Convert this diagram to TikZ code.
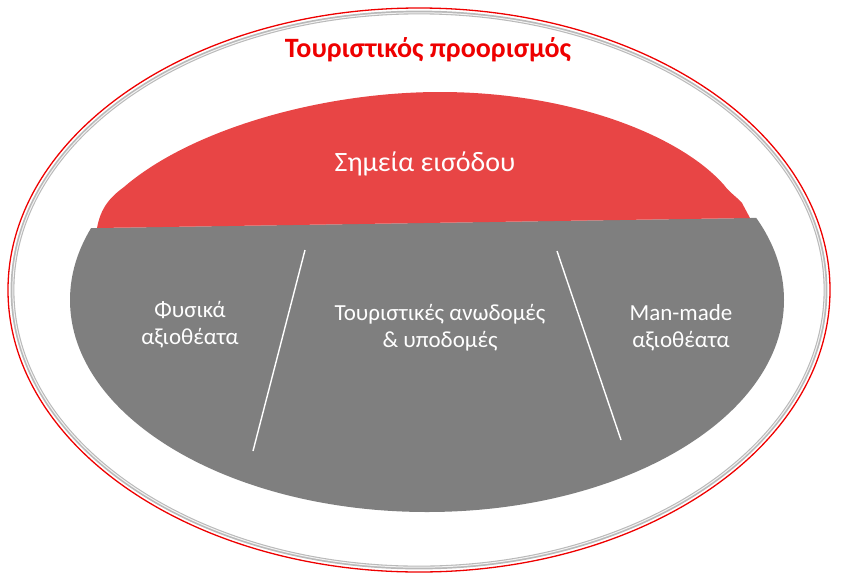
\documentclass[tikz,border=0pt]{standalone}
\usepackage{fontspec}
\setmainfont{Carlito}
\usepackage{xcolor}
\definecolor{capred}{HTML}{E84545}
\definecolor{titlered}{HTML}{EE0000}
\definecolor{bodygray}{HTML}{7F7F7F}

\begin{document}
\begin{tikzpicture}[x=1pt,y=-1pt,
    lbl/.style={text=white,align=center,font=\fontsize{23}{27}\selectfont},
    divider/.style={draw=white,line width=1.4pt}]
    \useasboundingbox (0,0) rectangle (846,587);
    % outer ring
    \draw[titlered,line width=1.3pt] (419,290) ellipse [x radius=411pt,y radius=282pt];
    \draw[gray!55,line width=3.8pt] (419,290) ellipse [x radius=406.5pt,y radius=277.5pt];
    \draw[gray!10,line width=1pt] (419,290) ellipse [x radius=406.2pt,y radius=277.2pt];
    \node[text=titlered,font=\bfseries\fontsize{28}{32}\selectfont] (title) at (428,50) {Τουριστικός προορισμός};
    % grey body
    \begin{scope}
      \clip (0,229) -- (97,228) -- (750,218) -- (846,217) -- (846,587) -- (0,587) -- cycle;
      \fill[bodygray] (427,300) ellipse [x radius=357pt,y radius=212pt];
    \end{scope}
    % red cap
    \fill[capred] (97,228) .. controls (100,212) and (106,200) .. (124,187)
      .. controls (190,130) and (320,92) .. (440,92)
      .. controls (570,92) and (680,135) .. (724,185)
      .. controls (730,193) and (738,198) .. (742,203)
      -- (750,218) -- cycle;
    \node[lbl,font=\fontsize{28}{32}\selectfont] (entry) at (425,164) {Σημεία εισόδου};
    % dividers
    \coordinate (d1a) at (305,250);
    \coordinate (d1b) at (253,451);
    \coordinate (d2a) at (557,251);
    \coordinate (d2b) at (621,440);
    \draw[divider] (d1a) -- (d1b);
    \draw[divider] (d2a) -- (d2b);
    \node[lbl] (nat) at (190,325) {Φυσικά\\αξιοθέατα};
    \node[lbl] (infra) at (440,328) {Τουριστικές ανωδομές\\\& υποδομές};
    \node[lbl] (man) at (681,328) {Man-made\\αξιοθέατα};
\end{tikzpicture}
\end{document}
